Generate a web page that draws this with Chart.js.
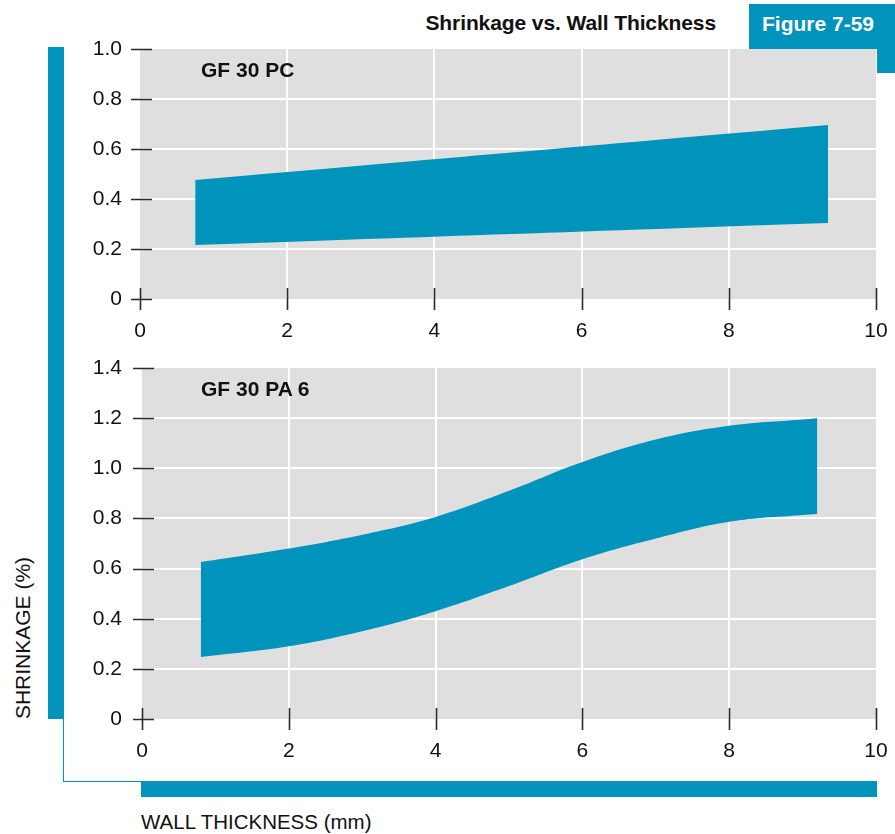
<!DOCTYPE html>
<html>
<head>
<meta charset="utf-8">
<script src="https://cdn.jsdelivr.net/npm/chart.js@4/dist/chart.umd.min.js"></script>
<style>
  html, body { margin:0; padding:0; background:#fff; }
  body { width:895px; height:834px; position:relative; overflow:hidden; font-family:"Liberation Sans", Arial, sans-serif; }
  .abs { position:absolute; }
  .teal { background:#0093bb; }
  canvas { position:absolute; left:0; top:0; }
</style>
</head>
<body>
<script>
// ---- DATA ----
const xTickLabels = ['0', '2', '4', '6', '8', '10'];
const yTickLabelsPC = ['0', '0.2', '0.4', '0.6', '0.8', '1.0'];
const yTickLabelsPA6 = ['0', '0.2', '0.4', '0.6', '0.8', '1.0', '1.2', '1.4'];

const pcThickness = [0.75, 9.35];
const pcUpper = [0.476, 0.696];
const pcLower = [0.216, 0.304];

const pa6Thickness = [0.8, 2, 3, 4, 5, 6, 7, 8, 9, 9.2];
const pa6Upper = [0.626, 0.68, 0.735, 0.806, 0.91, 1.025, 1.115, 1.17, 1.195, 1.2];
const pa6Lower = [0.247, 0.29, 0.35, 0.43, 0.53, 0.637, 0.72, 0.787, 0.814, 0.818];
</script>

<div class="abs teal" style="left:48px;top:47px;width:16px;height:672px;"></div>
<div class="abs teal" style="left:63px;top:719px;width:1px;height:63px;"></div>
<div class="abs teal" style="left:63px;top:781px;width:80px;height:1px;"></div>
<div class="abs teal" style="left:141px;top:781px;width:736px;height:16px;"></div>
<div class="abs teal" style="left:749px;top:4px;width:146px;height:45px;"></div>
<div class="abs teal" style="left:877px;top:48px;width:18px;height:25px;"></div>

<div class="abs" style="right:179px;top:11px;font-weight:bold;font-size:21px;color:#111;white-space:nowrap;letter-spacing:-0.1px;">Shrinkage vs. Wall Thickness</div>
<div class="abs" style="left:762px;top:12px;font-weight:bold;font-size:21px;color:#fff;white-space:nowrap;">Figure 7-59</div>
<div class="abs" style="left:141px;top:810px;font-size:20.5px;color:#111;white-space:nowrap;">WALL THICKNESS (mm)</div>
<div class="abs" style="left:23px;top:638px;font-size:21px;color:#111;white-space:nowrap;transform:translate(-50%,-50%) rotate(-90deg);">SHRINKAGE (%)</div>

<canvas id="c1" width="895" height="834"></canvas>
<canvas id="c2" width="895" height="834"></canvas>

<div class="abs" style="left:201px;top:58px;font-weight:bold;font-size:21px;color:#111;white-space:nowrap;">GF 30 PC</div>
<div class="abs" style="left:201px;top:377px;font-weight:bold;font-size:21px;color:#111;white-space:nowrap;">GF 30 PA 6</div>

<script>
const TEAL = '#0093bb';
const GRAY = '#dfdfdf';
const FONT = { family: '"Liberation Sans", Arial, sans-serif', size: 21 };

const panelPlugin = {
  id: 'panel',
  beforeDraw(chart) {
    const a = chart.chartArea, ctx = chart.ctx;
    ctx.save();
    ctx.fillStyle = GRAY;
    ctx.fillRect(a.left, a.top, a.right - a.left, a.bottom - a.top);
    ctx.restore();
  },
  afterDraw(chart) {
    const a = chart.chartArea, ctx = chart.ctx;
    const xs = chart.scales.x, ys = chart.scales.y;
    ctx.save();
    ctx.strokeStyle = '#2a2a2a';
    ctx.lineWidth = 1.6;
    ctx.beginPath();
    ys.ticks.forEach(t => {
      const y = Math.round(ys.getPixelForValue(t.value)) + 0.5;
      ctx.moveTo(a.left - 9, y); ctx.lineTo(a.left + 12, y);
    });
    xs.ticks.forEach(t => {
      const x = Math.round(xs.getPixelForValue(t.value)) + 0.5;
      ctx.moveTo(x, a.bottom - 11); ctx.lineTo(x, a.bottom + 11);
    });
    ctx.stroke();
    ctx.restore();
  }
};

function makeChart(id, xs, lower, upper, yMax, yLabels, top, bottom, leftW, yPad) {
  const toPts = arr => arr.map((v, i) => ({ x: xs[i], y: v }));
  return new Chart(document.getElementById(id), {
    type: 'line',
    data: {
      datasets: [
        { data: toPts(lower), borderWidth: 0, pointRadius: 0, fill: false, backgroundColor: TEAL, borderColor: TEAL, tension: 0.4 },
        { data: toPts(upper), borderWidth: 0, pointRadius: 0, fill: '-1', backgroundColor: TEAL, borderColor: TEAL, tension: 0.4 }
      ]
    },
    options: {
      responsive: false,
      animation: false,
      events: [],
      layout: { padding: { top: top, right: 19, left: 0, bottom: 0 } },
      plugins: { legend: { display: false }, tooltip: { enabled: false } },
      scales: {
        x: {
          type: 'linear', min: 0, max: 10,
          afterFit: s => { s.height = 834 - bottom; s.paddingRight = 0; s.paddingLeft = 0; },
          ticks: { stepSize: 2, padding: 20, color: '#111', font: FONT, maxRotation: 0,
                   callback: (v) => xTickLabels[Math.round(v / 2)] },
          grid: { drawTicks: false, lineWidth: 2,
                  color: c => (c.tick && (c.tick.value === 0 || c.tick.value === 10)) ? 'rgba(0,0,0,0)' : '#ffffff' },
          border: { display: false }
        },
        y: {
          type: 'linear', min: 0, max: yMax,
          afterFit: s => { s.width = leftW; s.paddingTop = 0; s.paddingBottom = 0; },
          ticks: { stepSize: 0.2, padding: yPad, color: '#111', font: FONT,
                   callback: (v) => yLabels[Math.round(v / 0.2)] },
          grid: { drawTicks: false, lineWidth: 2,
                  color: c => (c.tick && (Math.abs(c.tick.value) < 1e-9 || Math.abs(c.tick.value - yMax) < 1e-9)) ? 'rgba(0,0,0,0)' : '#ffffff' },
          border: { display: false }
        }
      }
    },
    plugins: [panelPlugin]
  });
}

makeChart('c1', pcThickness, pcLower, pcUpper, 1.0, yTickLabelsPC, 49, 299, 140, 18);
makeChart('c2', pa6Thickness, pa6Lower, pa6Upper, 1.4, yTickLabelsPA6, 368, 719, 142, 20);
</script>
</body>
</html>
